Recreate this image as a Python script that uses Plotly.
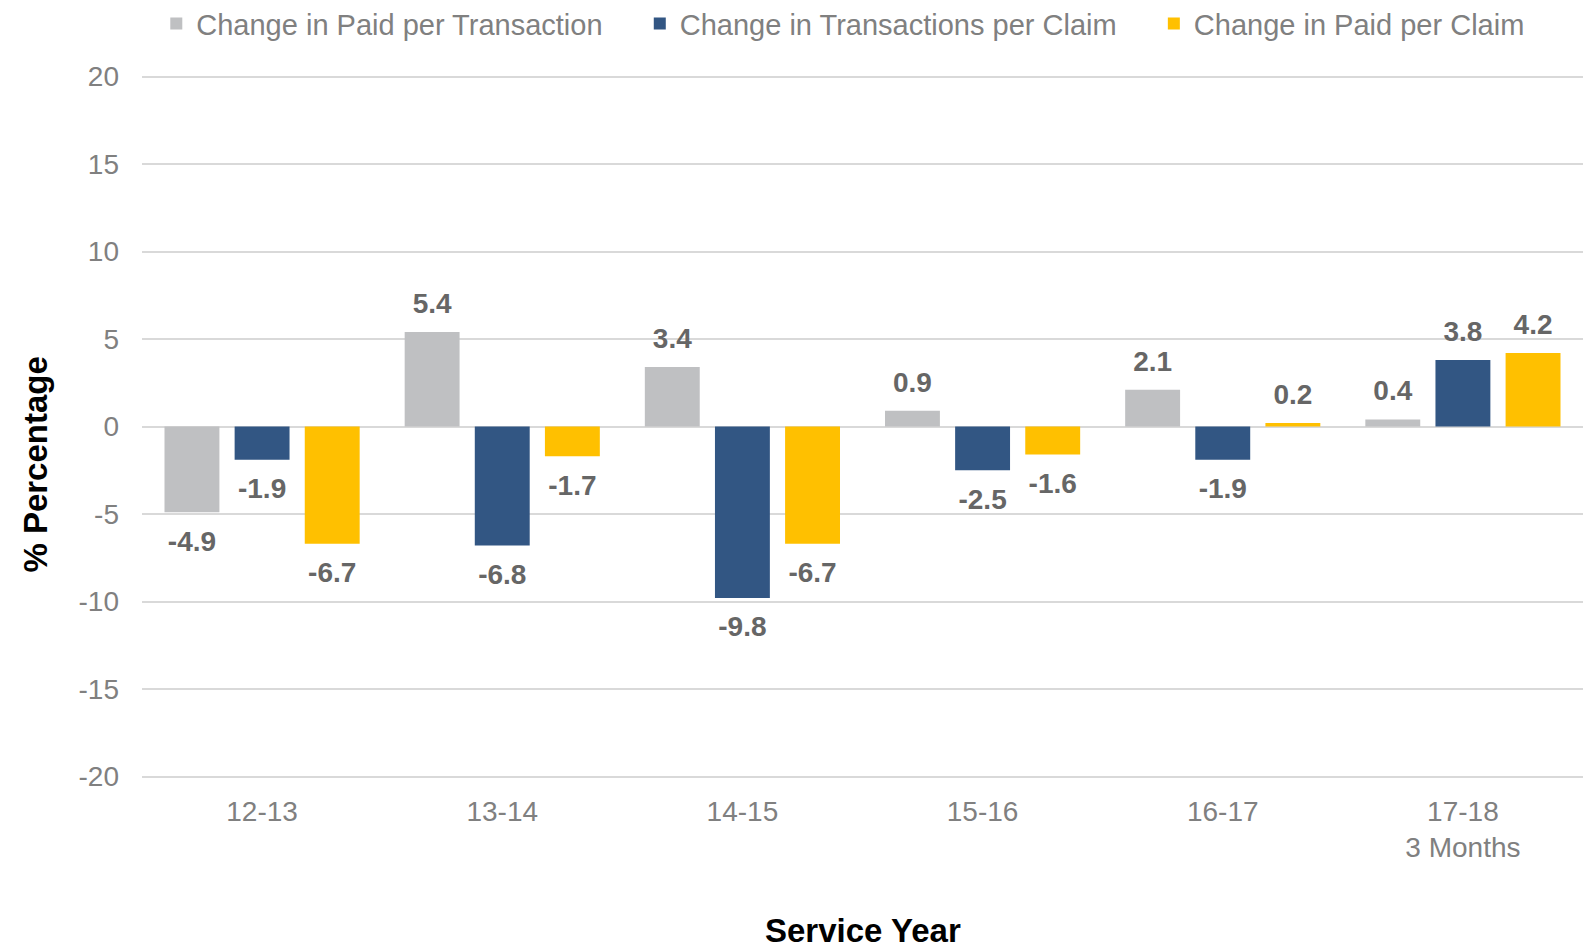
"""Year-over-year change components by service year, as grouped bars."""

import plotly.graph_objects as go

service_years = ["12-13", "13-14", "14-15", "15-16", "16-17", "17-18<br>3 Months"]
paid_per_transaction = [-4.9, 5.4, 3.4, 0.9, 2.1, 0.4]
transactions_per_claim = [-1.9, -6.8, -9.8, -2.5, -1.9, 3.8]
paid_per_claim = [-6.7, -1.7, -6.7, -1.6, 0.2, 4.2]

y_ticks = [-20, -15, -10, -5, 0, 5, 10, 15, 20]
y_tick_labels = ["-20", "-15", "-10", "-5", "0", "5", "10", "15", "20"]

series = [
    ("Change in Paid per Transaction", paid_per_transaction, "#BFC0C2"),
    ("Change in Transactions per Claim", transactions_per_claim, "#325683"),
    ("Change in Paid per Claim", paid_per_claim, "#FFC000"),
]

FONT = "Liberation Sans, Arial, sans-serif"
BAR_GAP = 0.124
LEGEND_PAD = "\u00a0" * 4  # wider spacing between legend entries

fig = go.Figure()
for i, (name, values, color) in enumerate(series):
    fig.add_trace(
        go.Bar(
            x=service_years, y=values, offsetgroup=name,
            name=name + (LEGEND_PAD if i < len(series) - 1 else ""),
            marker=dict(color=color, line=dict(width=0)),
        )
    )
# value labels: grouped text traces, an invisible marker keeps them off the bar end
for name, values, color in series:
    fig.add_trace(
        go.Scatter(
            x=service_years, y=values, mode="markers+text", showlegend=False,
            offsetgroup=name, hoverinfo="skip", cliponaxis=False,
            text=[f"{v:.1f}" for v in values],
            textposition=["top center" if v >= 0 else "bottom center" for v in values],
            marker=dict(size=[18 if v >= 0 else 26 for v in values],
                        color="rgba(0,0,0,0)", opacity=0,
                        line=dict(width=0, color="rgba(0,0,0,0)")),
            textfont=dict(family=FONT, size=28, color="#666666", weight="bold"),
        )
    )

# the page body adds 8px on the top and left, so the figure is a bit smaller
fig.update_layout(
    width=1585, height=942,
    margin=dict(l=134, r=10, t=65, b=170, autoexpand=False),
    barmode="group", bargap=BAR_GAP, bargroupgap=0.217,
    scattermode="group", scattergap=BAR_GAP,
    plot_bgcolor="white", paper_bgcolor="white",
    font=dict(family=FONT, size=28, color="#808080"),
    showlegend=True,
    legend=dict(
        orientation="h", x=0.527, xanchor="center", xref="container",
        y=0.9835, yanchor="middle", yref="container",
        font=dict(size=29, color="#808080"),
        itemwidth=30, traceorder="normal",
    ),
    xaxis=dict(
        showgrid=False, showline=False, ticks="", automargin=False,
        tickfont=dict(size=28), ticklabelstandoff=12,
    ),
    yaxis=dict(
        range=[-20.2, 20.2], tickvals=y_ticks, ticktext=y_tick_labels,
        showline=False, ticks="", automargin=False,
        gridcolor="#D9D9D9", gridwidth=2, zeroline=True,
        zerolinecolor="#D9D9D9", zerolinewidth=2,
        tickfont=dict(size=28), ticklabelstandoff=22,
    ),
    annotations=[
        dict(text="<b>% Percentage</b>", textangle=-90,
             x=-0.0736, xref="paper", xanchor="center",
             y=0.446, yref="paper", yanchor="middle", showarrow=False,
             font=dict(size=33, color="black")),
        dict(text="<b>Service Year</b>",
             x=0.5, xref="paper", xanchor="center",
             y=-0.2123, yref="paper", yanchor="middle", showarrow=False,
             font=dict(size=33, color="black")),
    ],
)

fig.write_html("out.html")
